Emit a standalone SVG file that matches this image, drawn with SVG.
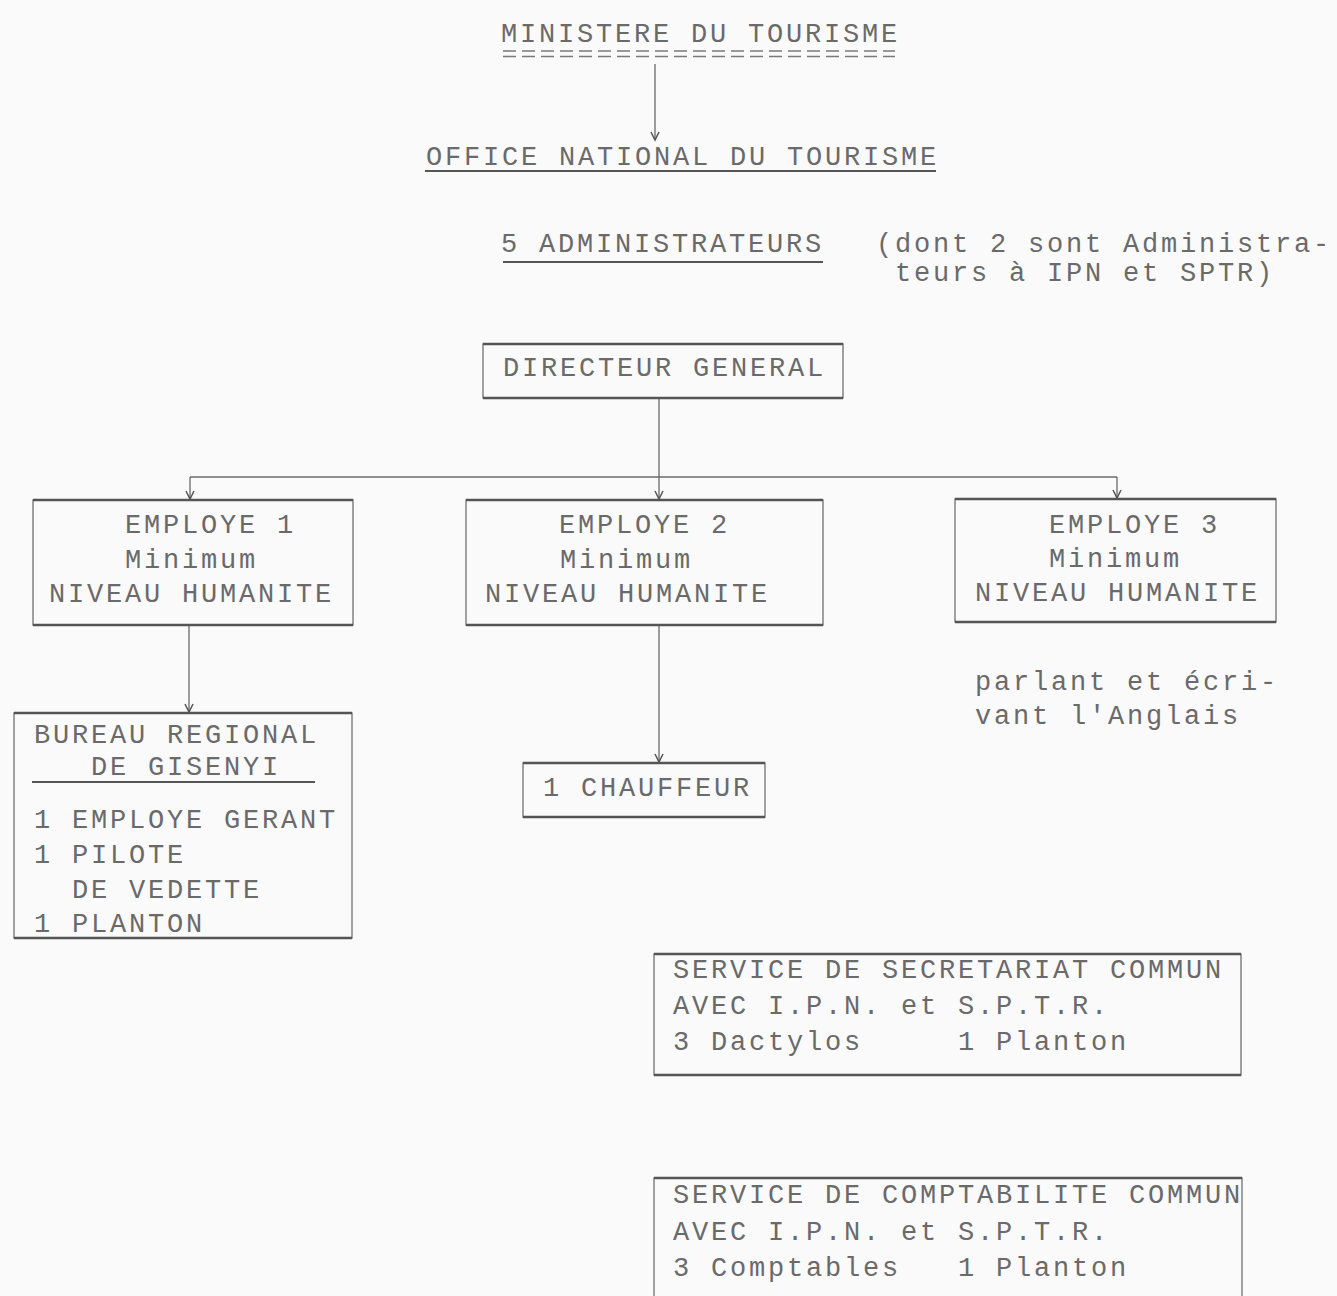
<svg xmlns="http://www.w3.org/2000/svg" width="1337" height="1296" viewBox="0 0 1337 1296">
<style>
  .t { font-family: "Liberation Mono", "DejaVu Sans Mono", monospace; font-size: 27px; letter-spacing: 2.8px; fill: #6a6a6a; }
  .box { fill: none; stroke: #7a7a7a; stroke-width: 1.4; }
  .edge { stroke: #555; stroke-width: 2.4; }
  .ul { stroke: #555; stroke-width: 2.2; }
  .conn { fill: none; stroke: #6a6a6a; stroke-width: 1.3; }
</style>
<defs>
  <marker id="arr" markerUnits="userSpaceOnUse" markerWidth="12" markerHeight="12" refX="9" refY="5" orient="auto">
    <path d="M1,1 L9,5 L1,9" fill="none" stroke="#555" stroke-width="1.5"/>
  </marker>
</defs>
<rect x="0" y="0" width="1337" height="1296" fill="#fafafa"/>

<g id="connectors">
  <line class="conn" x1="655" y1="64" x2="655" y2="140" marker-end="url(#arr)"/>
  <line class="conn" x1="659" y1="398" x2="659" y2="477"/>
  <line class="conn" x1="190" y1="477" x2="1117" y2="477"/>
  <line class="conn" x1="190" y1="477" x2="190" y2="499" marker-end="url(#arr)"/>
  <line class="conn" x1="659" y1="477" x2="659" y2="499" marker-end="url(#arr)"/>
  <line class="conn" x1="1117" y1="477" x2="1117" y2="498" marker-end="url(#arr)"/>
  <line class="conn" x1="189" y1="625" x2="189" y2="712" marker-end="url(#arr)"/>
  <line class="conn" x1="659" y1="625" x2="659" y2="762" marker-end="url(#arr)"/>
</g>

<g id="ministere">
  <text class="t" x="501" y="42">MINISTERE DU TOURISME</text>
  <line x1="503" y1="51" x2="895" y2="51" stroke="#7a7a7a" stroke-width="1.6" stroke-dasharray="13 6"/>
  <line x1="503" y1="56.5" x2="895" y2="56.5" stroke="#7a7a7a" stroke-width="1.6" stroke-dasharray="13 6"/>
</g>

<g id="office">
  <text class="t" x="426" y="165">OFFICE NATIONAL DU TOURISME</text>
  <line class="ul" x1="425" y1="171" x2="936" y2="171"/>
</g>

<g id="administrateurs">
  <text class="t" x="501" y="252">5 ADMINISTRATEURS</text>
  <line class="ul" x1="503" y1="262" x2="823" y2="262"/>
  <text class="t" x="876" y="252">(dont 2 sont Administra-</text>
  <text class="t" x="895" y="281">teurs à IPN et SPTR)</text>
</g>

<g id="directeur">
  <rect class="box" x="483" y="344" width="360" height="54"/>
  <line class="edge" x1="483" y1="344" x2="843" y2="344"/>
  <line class="edge" x1="483" y1="398" x2="843" y2="398"/>
  <text class="t" x="503" y="376">DIRECTEUR GENERAL</text>
</g>

<g id="employe1">
  <rect class="box" x="33" y="500" width="320" height="125"/>
  <line class="edge" x1="33" y1="500" x2="353" y2="500"/>
  <line class="edge" x1="33" y1="625" x2="353" y2="625"/>
  <text class="t" x="125" y="533">EMPLOYE 1</text>
  <text class="t" x="125" y="568">Minimum</text>
  <text class="t" x="49" y="602">NIVEAU HUMANITE</text>
</g>

<g id="employe2">
  <rect class="box" x="466" y="500" width="357" height="125"/>
  <line class="edge" x1="466" y1="500" x2="823" y2="500"/>
  <line class="edge" x1="466" y1="625" x2="823" y2="625"/>
  <text class="t" x="559" y="533">EMPLOYE 2</text>
  <text class="t" x="560" y="568">Minimum</text>
  <text class="t" x="485" y="602">NIVEAU HUMANITE</text>
</g>

<g id="employe3">
  <rect class="box" x="955" y="499" width="321" height="123"/>
  <line class="edge" x1="955" y1="499" x2="1276" y2="499"/>
  <line class="edge" x1="955" y1="622" x2="1276" y2="622"/>
  <text class="t" x="1049" y="533">EMPLOYE 3</text>
  <text class="t" x="1049" y="567">Minimum</text>
  <text class="t" x="975" y="601">NIVEAU HUMANITE</text>
</g>

<g id="anglais">
  <text class="t" x="975" y="690">parlant et écri-</text>
  <text class="t" x="975" y="724">vant l'Anglais</text>
</g>

<g id="bureau">
  <rect class="box" x="14" y="713" width="338" height="225"/>
  <line class="edge" x1="14" y1="713" x2="352" y2="713"/>
  <line class="edge" x1="14" y1="938" x2="352" y2="938"/>
  <text class="t" x="34" y="743">BUREAU REGIONAL</text>
  <text class="t" x="91" y="775">DE GISENYI</text>
  <line class="ul" x1="32" y1="782" x2="315" y2="782"/>
  <text class="t" x="34" y="828">1 EMPLOYE GERANT</text>
  <text class="t" x="34" y="863">1 PILOTE</text>
  <text class="t" x="72" y="898">DE VEDETTE</text>
  <text class="t" x="34" y="932">1 PLANTON</text>
</g>

<g id="chauffeur">
  <rect class="box" x="523" y="763" width="242" height="54"/>
  <line class="edge" x1="523" y1="763" x2="765" y2="763"/>
  <line class="edge" x1="523" y1="817" x2="765" y2="817"/>
  <text class="t" x="543" y="796">1 CHAUFFEUR</text>
</g>

<g id="secretariat">
  <rect class="box" x="654" y="954" width="587" height="121"/>
  <line class="edge" x1="654" y1="954" x2="1241" y2="954"/>
  <line class="edge" x1="654" y1="1075" x2="1241" y2="1075"/>
  <text class="t" x="673" y="978">SERVICE DE SECRETARIAT COMMUN</text>
  <text class="t" x="673" y="1014">AVEC I.P.N. et S.P.T.R.</text>
  <text class="t" y="1050"><tspan x="673">3 Dactylos</tspan><tspan x="958">1 Planton</tspan></text>
</g>

<g id="comptabilite">
  <rect class="box" x="654" y="1178" width="588" height="140"/>
  <line class="edge" x1="654" y1="1178" x2="1242" y2="1178"/>
  <text class="t" x="673" y="1203">SERVICE DE COMPTABILITE COMMUN</text>
  <text class="t" x="673" y="1240">AVEC I.P.N. et S.P.T.R.</text>
  <text class="t" y="1276"><tspan x="673">3 Comptables</tspan><tspan x="958">1 Planton</tspan></text>
</g>
</svg>
